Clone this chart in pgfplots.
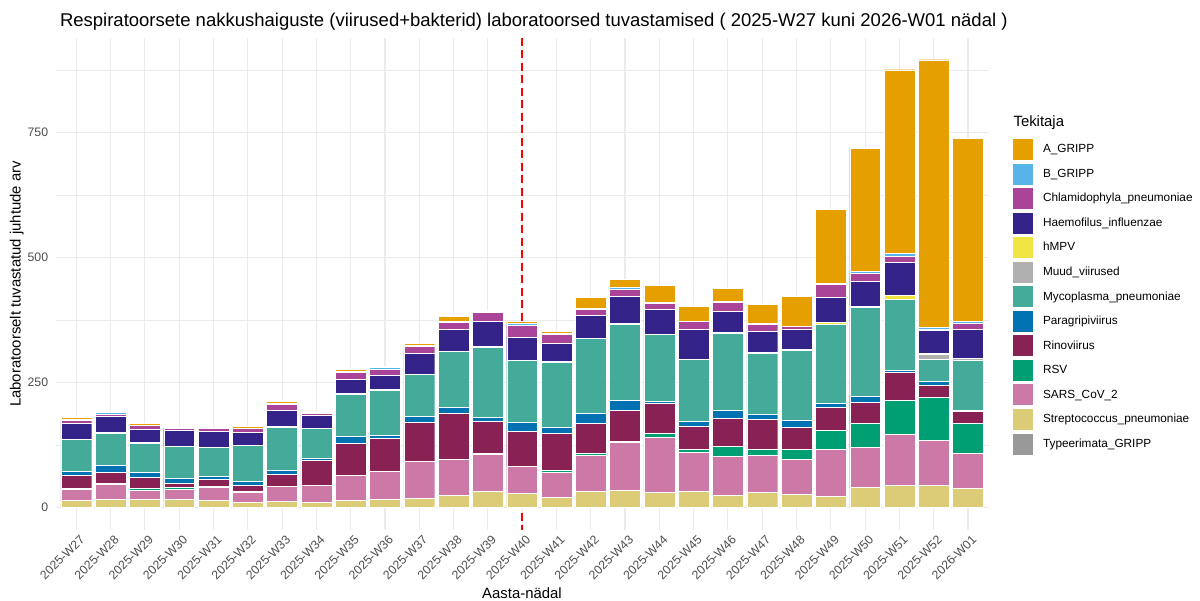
\documentclass[border=0pt]{standalone}
\usepackage{fontspec}
\setmainfont{Liberation Sans}
\usepackage{pgfplots}
\pgfplotsset{compat=1.18}
\usepackage{pgfplotstable}
\definecolor{cA}{HTML}{E69F00}
\definecolor{cB}{HTML}{56B4E9}
\definecolor{cChlam}{HTML}{AA4499}
\definecolor{cHaemo}{HTML}{332288}
\definecolor{chMPV}{HTML}{F0E442}
\definecolor{cMuud}{HTML}{B0B0B0}
\definecolor{cMyco}{HTML}{44AA99}
\definecolor{cPara}{HTML}{0072B2}
\definecolor{cRino}{HTML}{882255}
\definecolor{cRSV}{HTML}{009E73}
\definecolor{cSARS}{HTML}{CC79A7}
\definecolor{cStrep}{HTML}{DDCC77}
\definecolor{cTyp}{HTML}{999999}
\definecolor{gridc}{HTML}{EBEBEB}
\definecolor{tickc}{HTML}{4D4D4D}
\pgfplotstableread{
x Typ Strep SARS RSV Rino Para Myco Muud hMPV Haemo Chlam B A
0 0 14 22 2 27 7 65 0 0 32 6 1 4
1 0 17 30 1 22 15 64 0 1 32 4 4 1
2 0 16 19 3 23 9 59 0 1 27 8 0 4
3 0 16 21 4 8 10 64 0 0 32 3 1 1
4 0 15 25 2 15 5 58 0 0 32 6 0 3
5 0 11 20 2 12 7 72 0 0 26 9 0 3
6 0 12 30 0 24 8 86 0 2 33 12 2 3
7 0 11 33 1 49 5 59 0 1 26 4 2 1
8 0 15 50 0 63 14 85 0 2 28 13 2 4
9 0 16 57 0 66 5 90 1 1 29 12 3 2
10 0 18 75 0 78 12 83 0 1 42 13 2 5
11 0 24 73 0 92 11 112 0 1 43 15 2 9
12 0 32 75 1 64 9 140 0 1 51 17 2 2
13 0 29 54 0 70 17 124 1 0 45 25 3 5
14 0 21 50 4 73 12 131 0 1 37 18 2 4
15 0 33 71 5 60 20 149 0 1 46 12 2 21
16 0 35 96 2 62 20 152 0 2 53 15 4 16
17 0 31 110 8 59 5 133 1 0 49 12 2 34
18 0 32 78 7 45 11 123 1 0 60 15 1 29
19 0 25 78 19 57 15 155 2 0 42 17 2 26
20 0 31 73 12 60 11 121 0 2 43 14 2 38
21 0 27 69 20 45 13 141 1 0 40 6 1 60
22 0 22 95 37 46 9 157 0 4 51 25 3 147
23 0 40 81 47 43 11 178 0 3 49 17 3 247
24 0 45 101 69 56 3 143 0 7 66 13 5 368
25 0 45 90 86 23 9 43 10 3 45 2 4 536
26 0 39 70 59 24 3 100 4 0 57 13 3 367
}\datatable
\begin{document}
\begin{tikzpicture}
\begin{axis}[
  at={(55.7pt,71pt)}, anchor=south west,
  scale only axis, width=932.9pt, height=492.2pt,
  xmin=-0.6, xmax=26.6, ymin=-44.75, ymax=939.75,
  ybar stacked, bar width=0.9,
  xtick={0,...,26},
  xticklabels={2025-W27,2025-W28,2025-W29,2025-W30,2025-W31,2025-W32,2025-W33,2025-W34,2025-W35,2025-W36,2025-W37,2025-W38,2025-W39,2025-W40,2025-W41,2025-W42,2025-W43,2025-W44,2025-W45,2025-W46,2025-W47,2025-W48,2025-W49,2025-W50,2025-W51,2025-W52,2026-W01},
  ytick={0,250,500,750}, yticklabels={0,250,500,750},
  minor ytick={125,375,625,875},
  xmajorgrids, ymajorgrids, yminorgrids,
  major grid style={draw=gridc, line width=1.1pt},
  minor grid style={draw=gridc, line width=0.55pt},
  axis line style={draw=none},
  major tick length=0pt, minor tick length=0pt,
  tick style={draw=none},
  tick label style={font=\fontsize{12.3}{14}\selectfont, text=tickc},
  yticklabel style={anchor=east, inner sep=0pt, xshift=-7.4pt},
  xticklabel style={xshift=3pt, yshift=-4pt, rotate=45, anchor=north east, inner sep=0pt},
  legend style={draw=none, fill=none, inner sep=0pt, outer sep=0pt,
    at={(1.0248,0.796)}, anchor=north west, row sep=2.23pt, column sep=9.4pt,
    nodes={inner sep=0pt}, font=\fontsize{11.8}{14}\selectfont, text=black},
  legend cell align=left,
  reverse legend,
  legend image code/.code={\draw[#1, draw=white, line width=0.3pt] (0pt,-11pt) rectangle (21.6pt,11pt);},
]
\addplot[fill=cTyp, draw=none] table[x=x,y=Typ]{\datatable};
\addlegendentry{Typeerimata\_GRIPP}
\addplot[fill=cStrep, draw=white, line width=0.3pt] table[x=x,y=Strep]{\datatable};
\addlegendentry{Streptococcus\_pneumoniae}
\addplot[fill=cSARS, draw=white, line width=0.3pt] table[x=x,y=SARS]{\datatable};
\addlegendentry{SARS\_CoV\_2}
\addplot[fill=cRSV, draw=white, line width=0.3pt] table[x=x,y=RSV]{\datatable};
\addlegendentry{RSV}
\addplot[fill=cRino, draw=white, line width=0.3pt] table[x=x,y=Rino]{\datatable};
\addlegendentry{Rinoviirus}
\addplot[fill=cPara, draw=white, line width=0.3pt] table[x=x,y=Para]{\datatable};
\addlegendentry{Paragripiviirus}
\addplot[fill=cMyco, draw=white, line width=0.3pt] table[x=x,y=Myco]{\datatable};
\addlegendentry{Mycoplasma\_pneumoniae}
\addplot[fill=cMuud, draw=white, line width=0.3pt] table[x=x,y=Muud]{\datatable};
\addlegendentry{Muud\_viirused}
\addplot[fill=chMPV, draw=white, line width=0.3pt] table[x=x,y=hMPV]{\datatable};
\addlegendentry{hMPV}
\addplot[fill=cHaemo, draw=white, line width=0.3pt] table[x=x,y=Haemo]{\datatable};
\addlegendentry{Haemofilus\_influenzae}
\addplot[fill=cChlam, draw=white, line width=0.3pt] table[x=x,y=Chlam]{\datatable};
\addlegendentry{Chlamidophyla\_pneumoniae}
\addplot[fill=cB, draw=white, line width=0.3pt] table[x=x,y=B]{\datatable};
\addlegendentry{B\_GRIPP}
\addplot[fill=cA, draw=white, line width=0.3pt] table[x=x,y=A]{\datatable};
\addlegendentry{A\_GRIPP}
\draw[red, line width=2.2pt, dash pattern=on 8pt off 4.5pt] (axis cs:13,939.75) -- (axis cs:13,-44.75);
\end{axis}
\node[anchor=base west, font=\fontsize{18.5}{21}\selectfont] at (56.5pt,574.5pt) {Respiratoorsete nakkushaiguste (viirused+bakterid) laboratoorsed tuvastamised ( 2025-W27 kuni 2026-W01 nädal )};
\node[anchor=base, rotate=90, font=\fontsize{14.9}{17}\selectfont] at (20.5pt,317pt) {Laboratoorselt tuvastatud juhtude arv};
\node[anchor=base, font=\fontsize{14.9}{17}\selectfont] at (522pt,2pt) {Aasta-nädal};
\node[anchor=base west, font=\fontsize{14.9}{17}\selectfont] at (1010pt,474pt) {Tekitaja};
\pgfresetboundingbox
\path[use as bounding box] (0,0) rectangle (1200pt,601pt);
\end{tikzpicture}
\end{document}
